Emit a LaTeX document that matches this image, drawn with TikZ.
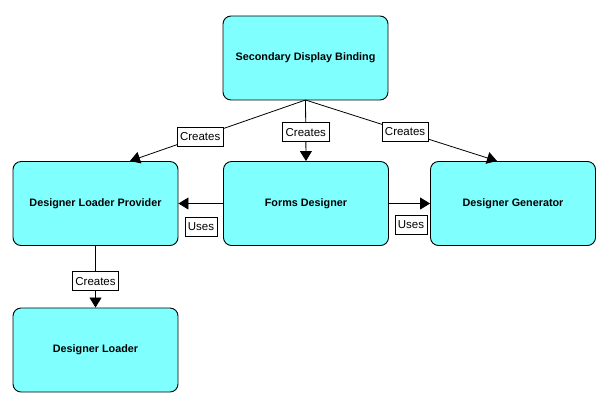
\documentclass[tikz,border=0pt]{standalone}
\usepackage{fontspec}
\setmainfont{Liberation Sans}
\usetikzlibrary{arrows.meta}
\begin{document}
\begin{tikzpicture}[x=1pt,y=-1pt,
  box/.style={draw=black, line width=0.9pt, fill=boxcyan, rounded corners=8pt,
    minimum width=165pt, minimum height=84pt, font=\fontsize{10.8}{12}\selectfont\bfseries},
  lbl/.style={draw=black, line width=0.8pt, fill=white, inner xsep=3pt, inner ysep=0pt,
    minimum height=19pt, font=\fontsize{11.5}{13}\selectfont},
  conn/.style={line width=0.8pt, -{Triangle[length=10pt,width=12pt]}}]
\definecolor{boxcyan}{HTML}{80FFFF}
\useasboundingbox (0,0) rectangle (609,408);
\node[box] (sdb) at (305.5,58) {Secondary Display Binding};
\node[box] (dlp) at (95.5,203.5) {Designer Loader Provider};
\node[box] (fd) at (306,203.5) {Forms Designer};
\node[box] (dg) at (513,203.5) {Designer Generator};
\node[box] (dl) at (95.5,350) {Designer Loader};
\coordinate (sb) at (305.5,100);
\coordinate (t1) at (130,161);
\coordinate (t3) at (497,161);
\draw[conn] (sb) -- (t1) node[lbl, pos=0.6] (c1) {Creates};
\draw[conn] (sb) -- (fd.north) node[lbl, pos=0.53] (c2) {Creates};
\draw[conn] (sb) -- (t3) node[lbl, pos=0.52] (c3) {Creates};
\draw[conn] (fd.west) -- (dlp.east);
\node[lbl] (u1) at (201,227) {Uses};
\draw[conn] (fd.east) -- (dg.west);
\node[lbl] (u2) at (411,225) {Uses};
\draw[conn] (dlp.south) -- (dl.north) node[lbl, pos=0.57] (c4) {Creates};
\end{tikzpicture}
\end{document}
